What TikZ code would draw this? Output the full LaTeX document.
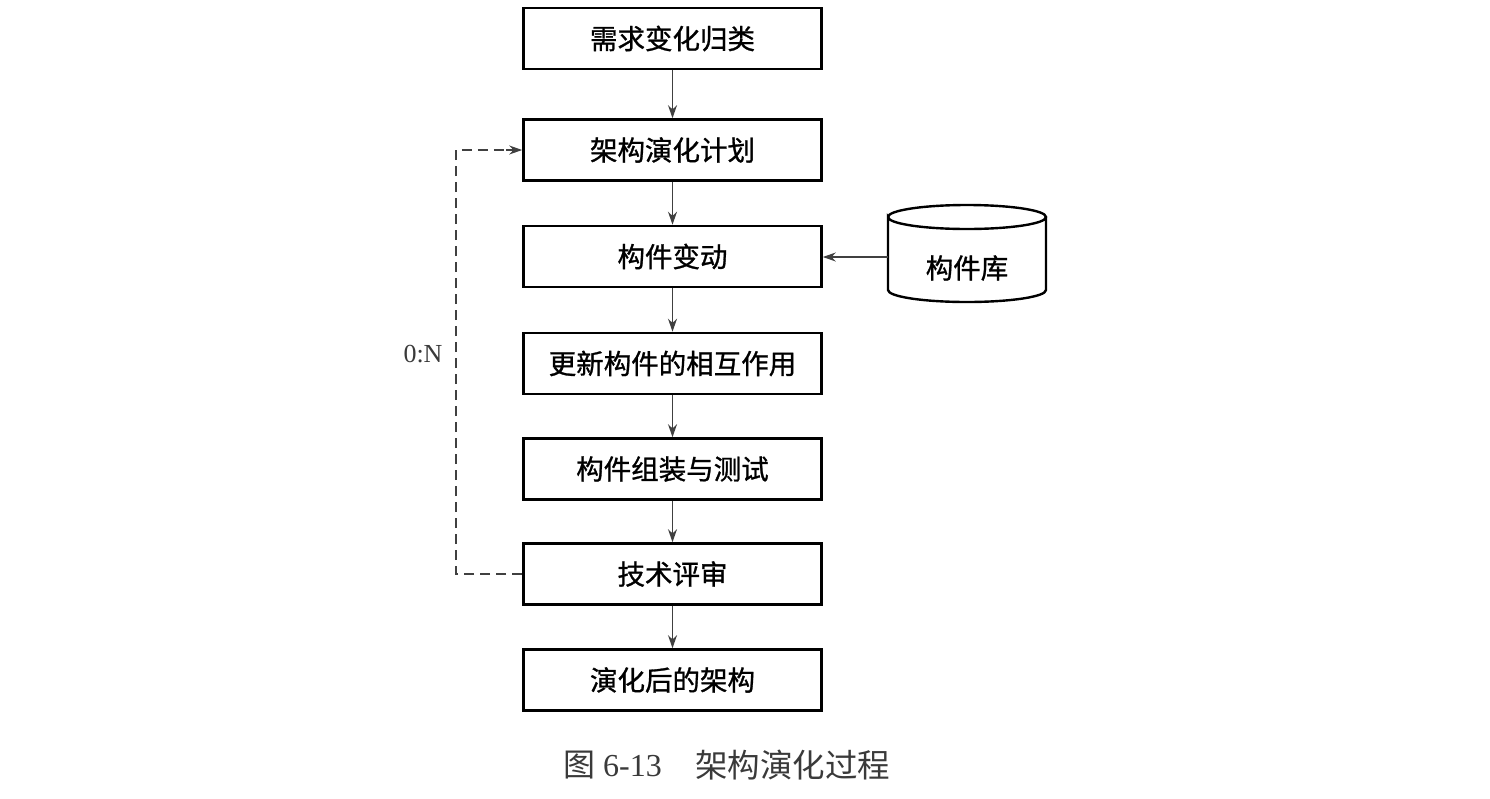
\documentclass[tikz,border=0pt]{standalone}
\usepackage{fontspec}
\setmainfont{Liberation Serif}
\newfontfamily\cjk[FakeBold=1]{Noto Sans CJK SC}
\newfontfamily\cjkl{Noto Sans CJK SC}
\usetikzlibrary{arrows.meta}
\definecolor{capgray}{HTML}{3A3A3A}
\tikzset{
  stepbox/.style={draw=black, line width=2.6pt, minimum width=298pt, minimum height=61pt,
    inner sep=0pt, font=\cjk\fontsize{27.5}{27.5}\selectfont},
  flow/.style={draw=black!75, line width=1.5pt, -{Stealth[length=13pt,width=9pt]}},
  loopline/.style={draw=black!75, line width=1.5pt, dash pattern=on 10pt off 6pt},
}
\begin{document}
\begin{tikzpicture}[x=1pt,y=-1pt]
\useasboundingbox[fill=white] (0,0) rectangle (1490,798);
\node[stepbox] (b1) at (672.5,38.5) {需求变化归类};
\node[stepbox] (b2) at (672.5,150) {架构演化计划};
\node[stepbox] (b3) at (672.5,256.5) {构件变动};
\node[stepbox] (b4) at (672.5,363.5) {更新构件的相互作用};
\node[stepbox] (b5) at (672.5,469) {构件组装与测试};
\node[stepbox] (b6) at (672.5,574) {技术评审};
\node[stepbox] (b7) at (672.5,680) {演化后的架构};
\draw[flow] (b1) -- (b2);
\draw[flow] (b2) -- (b3);
\draw[flow] (b3) -- (b4);
\draw[flow] (b4) -- (b5);
\draw[flow] (b5) -- (b6);
\draw[flow] (b6) -- (b7);
% cylinder
\draw[line width=2.4pt] (888,217) arc[start angle=180, end angle=0, x radius=79pt, y radius=12pt]
  arc[start angle=0, end angle=-180, x radius=79pt, y radius=12pt]
  -- (888,290) arc[start angle=180, end angle=360, x radius=79pt, y radius=12pt]
  -- (1046,217);
\node[font=\cjk\fontsize{27.5}{27.5}\selectfont, inner sep=0pt] (lib) at (967,268) {构件库};
\coordinate (libw) at (888,257);
\draw[flow] (libw) -- (b3.east |- libw);
% feedback loop
\coordinate (dl) at (456,574);
\coordinate (ul) at (456,150);
\draw[loopline] (b6.west) -- (dl) -- (ul) -- ([xshift=-8pt]b2.west);
\draw[flow] ([xshift=-16pt]b2.west) -- (b2.west);
\node[font=\fontsize{26}{26}\selectfont, text=capgray] (lbl) at (423,354) {0:N};
% caption
\node[font=\fontsize{32}{32}\selectfont, text=capgray, anchor=west, inner sep=0pt] (cap1) at (563,765) {{\cjkl 图} 6-13};
\node[font=\cjkl\fontsize{32.5}{32.5}\selectfont, text=capgray, anchor=west, inner sep=0pt] (cap2) at (695,765) {架构演化过程};
\end{tikzpicture}
\end{document}
